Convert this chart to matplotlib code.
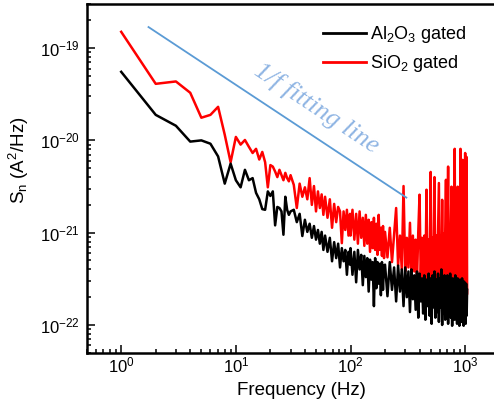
import matplotlib
matplotlib.use("Agg")
import matplotlib.pyplot as plt
from matplotlib.lines import Line2D
import numpy as np

plt.rcParams['font.family'] = 'Liberation Sans'
plt.rcParams['mathtext.fontset'] = 'custom'
plt.rcParams['mathtext.rm'] = 'Liberation Sans'
plt.rcParams['mathtext.it'] = 'Liberation Sans:italic'
plt.rcParams['mathtext.bf'] = 'Liberation Sans:bold'

# frequency points (Hz)
freq = [1, 2, 3, 4, 5, 6, 7, 8, 9, 10,
        11, 12, 13, 14, 15, 16, 17, 18, 19, 20,
        21, 22, 23, 24, 25, 26, 27, 28, 29, 30,
        32, 34, 36, 38, 40, 42, 44, 46, 48, 50,
        52, 54, 56, 58, 60,
        63, 66, 69, 72, 75, 78, 81, 84, 87, 90,
        93, 96, 99,
        100, 104, 108, 112, 116, 120, 124, 128, 132, 136,
        140, 144, 148, 152, 156, 160, 164, 168, 172, 176,
        180, 184, 188, 192, 196,
        200, 210, 220, 230, 240, 250, 260, 270, 280, 290,
        300, 310, 320, 330, 340, 350, 360, 370, 380, 390,
        400, 410, 420, 430, 440, 450, 460, 470, 480, 490,
        500, 510, 520, 530, 540, 550, 560, 570, 580, 590,
        600, 610, 620, 630, 640, 650, 660, 670, 680, 690,
        700, 710, 720, 730, 740, 750, 760, 770, 780, 790,
        800, 810, 820, 830, 840, 850, 860, 870, 880, 890,
        900, 910, 920, 930, 940, 950, 960, 970, 980, 990,
        1000, 1010, 1020, 1030, 1040]

# noise PSD in units of 1e-21 A^2/Hz
al2o3 = [55.3, 18.9, 14.4, 9.7, 10.0, 9.2, 6.7, 3.4, 5.6, 3.7,
         3.1, 4.8, 3.7, 3.9, 2.7, 2.3, 1.8, 1.77, 2.8, 2.5,
         2.8, 1.2, 1.9, 1.85, 1.7, 0.95, 2.45, 1.77, 1.56, 1.7,
         1.77, 1.3, 1.6, 0.92, 1.38, 1.02, 1.25, 0.88, 1.18, 0.84,
         1.07, 0.76, 1.02, 0.65, 0.93,
         0.62, 0.88, 0.49, 0.79, 0.53, 0.76, 0.42, 0.68, 0.49, 0.65,
         0.35, 0.62, 0.45,
         0.68, 0.35, 0.62, 0.29, 0.65, 0.40, 0.575, 0.27, 0.56, 0.33,
         0.53, 0.23, 0.51, 0.31, 0.48, 0.16, 0.53, 0.25, 0.48, 0.28,
         0.46, 0.21, 0.48, 0.24, 0.44,
         0.45, 0.205, 0.48, 0.24, 0.42, 0.18, 0.44, 0.23, 0.40, 0.16,
         0.42, 0.20, 0.38, 0.138, 0.40, 0.19, 0.345, 0.146, 0.38, 0.12,
         0.36, 0.18, 0.32, 0.133, 0.345, 0.114, 0.31, 0.16, 0.36, 0.126,
         0.32, 0.103, 0.345, 0.155, 0.38, 0.12, 0.31, 0.138, 0.36, 0.108,
         0.32, 0.155, 0.40, 0.100, 0.31, 0.133, 0.345, 0.114, 0.295, 0.146,
         0.345, 0.103, 0.31, 0.138, 0.36, 0.12, 0.295, 0.098, 0.32, 0.146,
         0.28, 0.114, 0.345, 0.133, 0.295, 0.103, 0.32, 0.138, 0.265, 0.098,
         0.31, 0.126, 0.28, 0.108, 0.32, 0.138, 0.265, 0.098, 0.295, 0.12,
         0.25, 0.103, 0.28, 0.126, 0.24]

sio2 = [150, 41, 43.5, 32.8, 17.6, 18.9, 23.1, 11.5, 5.8, 10.9,
        9.0, 10.1, 8.5, 7.3, 8.1, 6.2, 7.5, 5.8, 3.1, 5.4,
        5.2, 4.6, 4.0, 4.8, 4.2, 3.7, 4.45, 3.9, 3.6, 4.2,
        3.3, 1.85, 3.4, 2.45, 3.1, 2.3, 3.9, 2.0, 3.2, 1.7,
        2.8, 1.85, 2.6, 1.56, 2.45,
        1.45, 2.3, 1.13, 2.05, 1.3, 1.9, 1.7, 0.77, 1.7, 1.07,
        1.77, 0.93, 1.6,
        0.93, 1.77, 0.84, 1.6, 0.76, 1.7, 0.88, 1.45, 0.72, 1.56,
        0.76, 1.38, 0.62, 1.3, 0.68, 1.45, 0.65, 1.25, 0.575, 1.56,
        0.65, 1.13, 0.56, 1.18, 0.53,
        1.02, 0.54, 1.13, 0.48, 0.97, 1.85, 0.44, 0.93, 0.40, 3.2,
        0.38, 0.88, 0.42, 1.28, 0.345, 0.93, 0.38, 0.84, 0.31, 1.02,
        2.58, 0.32, 0.88, 0.295, 0.93, 0.28, 2.92, 0.31, 0.84, 0.265,
        4.55, 0.295, 0.88, 0.25, 4.0, 0.28, 0.93, 0.265, 0.97, 3.45,
        0.25, 0.93, 0.28, 2.27, 0.24, 0.97, 0.265, 1.07, 3.74, 0.25,
        0.93, 5.2, 0.265, 1.02, 0.24, 1.07, 3.15, 0.265, 1.13, 0.25,
        1.02, 8.1, 0.265, 1.13, 0.24, 1.07, 3.15, 0.28, 1.18, 0.25,
        1.02, 8.1, 0.28, 1.18, 0.24, 6.15, 0.265, 1.25, 0.25, 1.13,
        7.3, 0.265, 0.25, 6.6, 0.22]

# 1/f guide line end points
fit_freq = [1.73, 307]
fit_psd = [169, 2.4]

unit = 1e-21

fig = plt.figure(figsize=(4.94, 4.05), dpi=100)
ax = fig.add_axes([0.1755, 0.129, 0.836, 0.861])

ax.loglog(freq, np.array(sio2) * unit, color='#ff0000', lw=1.8)
ax.loglog(freq, np.array(al2o3) * unit, color='black', lw=1.8)
ax.loglog(fit_freq, np.array(fit_psd) * unit, color='#5b9bd5', lw=1.3)

ax.text(50.4, 2.25e-20, '1/f fitting line', family='Liberation Serif', style='italic',
        fontsize=19, color='#8eb4e3', rotation=-33.5, rotation_mode='anchor',
        ha='center', va='center')

ax.set_xlim(0.5, 2000)
ax.set_ylim(5.0e-23, 3.0e-19)

for side in ['left', 'bottom', 'top']:
    ax.spines[side].set_linewidth(1.8)
ax.spines['right'].set_visible(False)

ax.tick_params(which='both', direction='in', top=False, right=False, width=1.1)
ax.tick_params(which='major', length=6, labelsize=12)
ax.tick_params(which='minor', length=3)
ax.tick_params(axis='x', which='major', pad=2)
ax.tick_params(axis='y', which='major', pad=5)

ax.set_xlabel('Frequency (Hz)', fontsize=13.5)
ax.set_ylabel(r'S$_{\rm n}$ (A$^2$/Hz)', fontsize=13.5)
ax.xaxis.set_label_coords(0.52, -0.083)
ax.yaxis.set_label_coords(-0.135, 0.553)

handles = [Line2D([], [], color='black', lw=2),
           Line2D([], [], color='#ff0000', lw=2)]
ax.legend(handles, [r'Al$_2$O$_3$ gated', r'SiO$_2$ gated'], loc='upper left',
          bbox_to_anchor=(0.572, 0.943), frameon=False, fontsize=13,
          handlelength=2.4, handletextpad=0.2, borderpad=0, borderaxespad=0,
          labelspacing=0.45)

plt.savefig('out.png', dpi=100)
